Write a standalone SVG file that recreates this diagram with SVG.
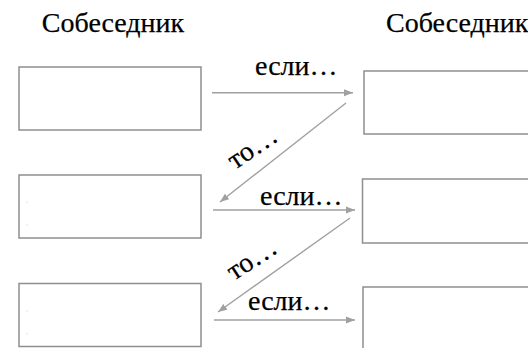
<svg xmlns="http://www.w3.org/2000/svg" width="528" height="348" viewBox="0 0 528 348">
<style>
.box{fill:#fff;stroke:#8f8f8f;stroke-width:1.5}
.lbl{font-family:"Liberation Serif","Times New Roman",serif;font-size:28px;fill:#000;stroke:#000;stroke-width:0.25}
.con{stroke:#a0a0a0;stroke-width:1.4;fill:none;marker-end:url(#ah)}
.dot{fill:#c8c8c8}
</style>
<defs>
<marker id="ah" markerUnits="userSpaceOnUse" markerWidth="10" markerHeight="8" refX="9" refY="4" orient="auto">
<path d="M0,0.5 L9,4 L0,7.5 Z" fill="#a0a0a0"/>
</marker>
</defs>
<rect width="528" height="348" fill="#fff"/>
<text class="lbl" x="113" y="32" text-anchor="middle">Собеседник</text>
<text class="lbl" x="386" y="32">Собеседник</text>
<g id="left1"><rect class="box" x="19" y="67" width="182" height="63"/></g>
<g id="left2"><rect class="box" x="19" y="175" width="182" height="63"/><rect class="dot" x="26.5" y="201.5" width="1" height="1"/><rect class="dot" x="26.5" y="224.5" width="1" height="1"/></g>
<g id="left3"><rect class="box" x="19" y="283.5" width="182" height="63"/><rect class="dot" x="26.5" y="310.5" width="1" height="1"/><rect class="dot" x="26.5" y="333.5" width="1" height="1"/></g>
<g id="right1"><rect class="box" x="364" y="71" width="180" height="63"/></g>
<g id="right2"><rect class="box" x="362.5" y="179" width="180" height="64"/></g>
<g id="right3"><rect class="box" x="363" y="287" width="180" height="80"/></g>
<g id="connectors">
<line class="con" x1="212" y1="92.7" x2="353" y2="92.7"/>
<line class="con" x1="346" y1="103" x2="220" y2="202"/>
<line class="con" x1="213" y1="210" x2="355" y2="210"/>
<line class="con" x1="350" y1="218" x2="218" y2="312"/>
<line class="con" x1="214" y1="320" x2="355" y2="320"/>
</g>
<text class="lbl" x="255" y="75">если…</text>
<text class="lbl" x="260" y="205">если…</text>
<text class="lbl" x="248" y="310">если…</text>
<text class="lbl" transform="translate(235,170) rotate(-34)">то…</text>
<text class="lbl" transform="translate(234,281) rotate(-33)">то…</text>
</svg>
